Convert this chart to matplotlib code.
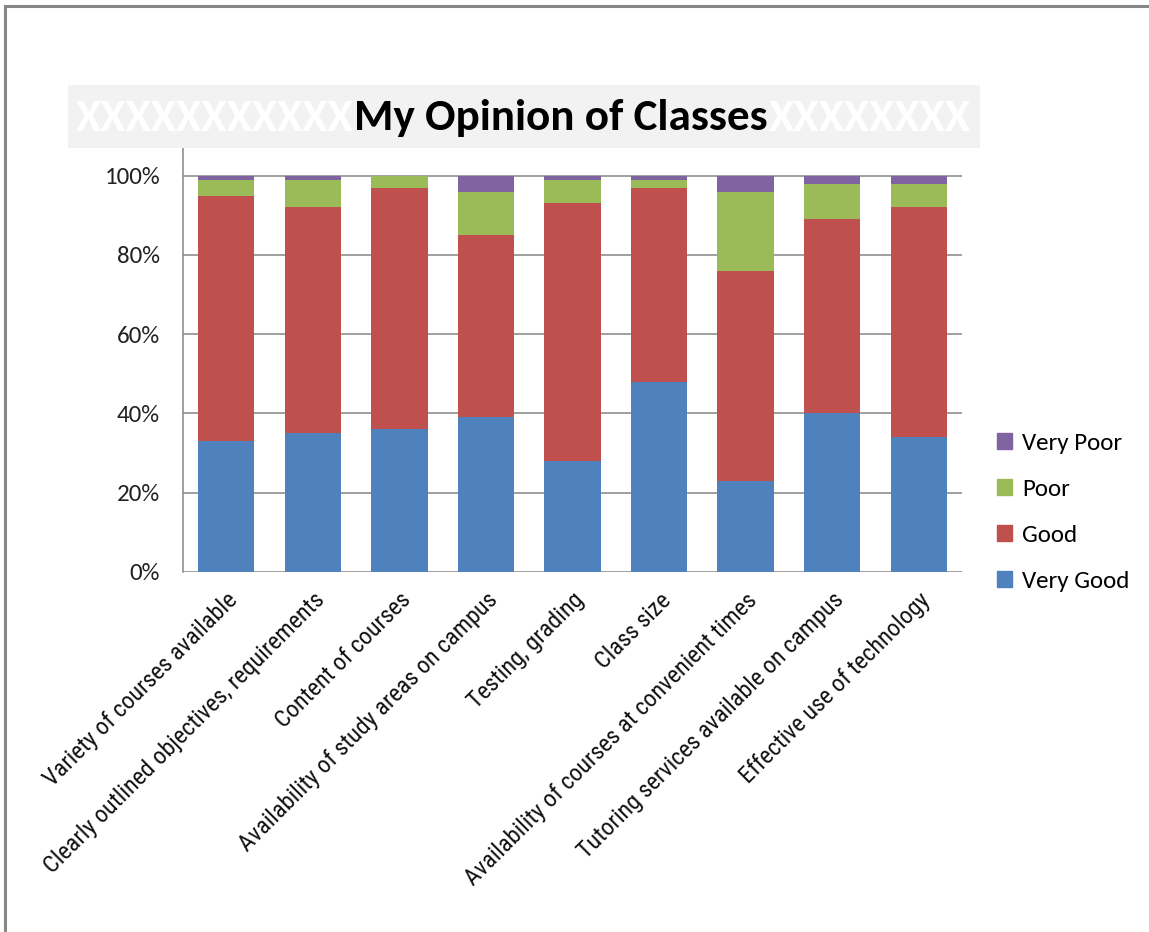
import matplotlib
matplotlib.use("Agg")
import matplotlib.pyplot as plt
import matplotlib.patches as mpatches
from matplotlib.lines import Line2D
import numpy as np

# ── Data (percent of responses) ─────────────────────────────
categories = [
    "Variety of courses available",
    "Clearly outlined objectives, requirements",
    "Content of courses",
    "Availability of study areas on campus",
    "Testing, grading",
    "Class size",
    "Availability of courses at convenient times",
    "Tutoring services available on campus",
    "Effective use of technology",
]
very_good = [33, 35, 36, 39, 28, 48, 23, 40, 34]
good      = [62, 57, 61, 46, 65, 49, 53, 49, 58]
poor      = [4, 7, 3, 11, 6, 2, 20, 9, 6]
very_poor = [1, 1, 0, 4, 1, 1, 4, 2, 2]

series = [
    ("Very Good", very_good, "#4F81BD"),
    ("Good",      good,      "#C0504D"),
    ("Poor",      poor,      "#9BBB59"),
    ("Very Poor", very_poor, "#8064A2"),
]

BODY_FONT = ["Carlito", "DejaVu Sans"]
LABEL_FONT = ["Roboto Condensed", "DejaVu Sans"]

W, H = 1149, 932
fig = plt.figure(figsize=(W / 100, H / 100), dpi=100)
fig.patch.set_facecolor("white")
renderer = fig.canvas.get_renderer()


def fit_size(text, family, target_px, weight="normal"):
    # font size that gives the text the wanted pixel width
    t = fig.text(0, 0, text, fontsize=10, family=family, fontweight=weight)
    w = t.get_window_extent(renderer=renderer).width
    t.remove()
    return 10 * target_px / w


# outer chart border (top + left edge visible)
fig.add_artist(Line2D([5 / W, 5 / W], [0, 1 - 6 / H], transform=fig.transFigure,
                      color="#868686", linewidth=2.2))
fig.add_artist(Line2D([5 / W, 1], [1 - 6 / H, 1 - 6 / H], transform=fig.transFigure,
                      color="#868686", linewidth=2.2))

# ── Plot area ───────────────────────────────────────────────
ax = fig.add_axes([183 / W, 1 - 572 / H, (962 - 183) / W, (572 - 148) / H])
x = np.arange(len(categories))
bottom = np.zeros(len(categories))
for name, vals, color in series:
    v = np.array(vals, dtype=float)
    ax.bar(x, v, bottom=bottom, width=0.65, color=color, label=name, zorder=3)
    bottom += v

ax.set_xlim(-0.5, len(categories) - 0.5)
ax.set_ylim(0, 107)
ax.set_yticks([0, 20, 40, 60, 80, 100])
ax.set_yticklabels([f"{t}%" for t in [0, 20, 40, 60, 80, 100]],
                   fontfamily=BODY_FONT, fontsize=18, color="#222222")
ax.yaxis.grid(True, color="#868686", linewidth=1.1, zorder=0)
ax.tick_params(axis="y", length=0, pad=16.5)
ax.tick_params(axis="x", length=0, pad=12)
ax.set_xticks(x)
label_size = fit_size(categories[0], LABEL_FONT, 262)
ax.set_xticklabels(categories, rotation=45, ha="right", rotation_mode="anchor",
                   fontfamily=LABEL_FONT, fontsize=label_size, color="#111111")
for side in ["top", "right", "bottom"]:
    ax.spines[side].set_visible(False)
ax.spines["left"].set_color("#868686")
ax.spines["left"].set_linewidth(1.1)

# legend on the right, top entry = Very Poor
handles = [mpatches.Patch(color=c, label=n) for n, _, c in series[::-1]]
fig.legend(handles=handles, loc="center left", bbox_to_anchor=(997 / W, 1 - 512 / H),
           frameon=False, prop={"family": BODY_FONT, "size": 18},
           borderpad=0, borderaxespad=0,
           handlelength=0.6, handleheight=0.6, handletextpad=0.4, labelspacing=1.0)

# ── Title box ───────────────────────────────────────────────
fig.add_artist(mpatches.Rectangle((68 / W, 1 - 148 / H), (980 - 68) / W, 63 / H,
                                  transform=fig.transFigure, facecolor="#F2F2F2",
                                  edgecolor="none"))
ty = 1 - 118 / H
fig.text(561 / W, ty, "My Opinion of Classes", ha="center", va="center",
         fontfamily=BODY_FONT, fontweight="bold", fontsize=32.5, color="black")
fig.text(354 / W, ty, "XXXXXXXXXXX", ha="right", va="center",
         fontfamily=BODY_FONT, fontweight="bold", fontsize=33, color="white")
fig.text(769 / W, ty, "XXXXXXXX", ha="left", va="center",
         fontfamily=BODY_FONT, fontweight="bold", fontsize=33, color="white")

fig.savefig("out.png", dpi=100, facecolor="white")
